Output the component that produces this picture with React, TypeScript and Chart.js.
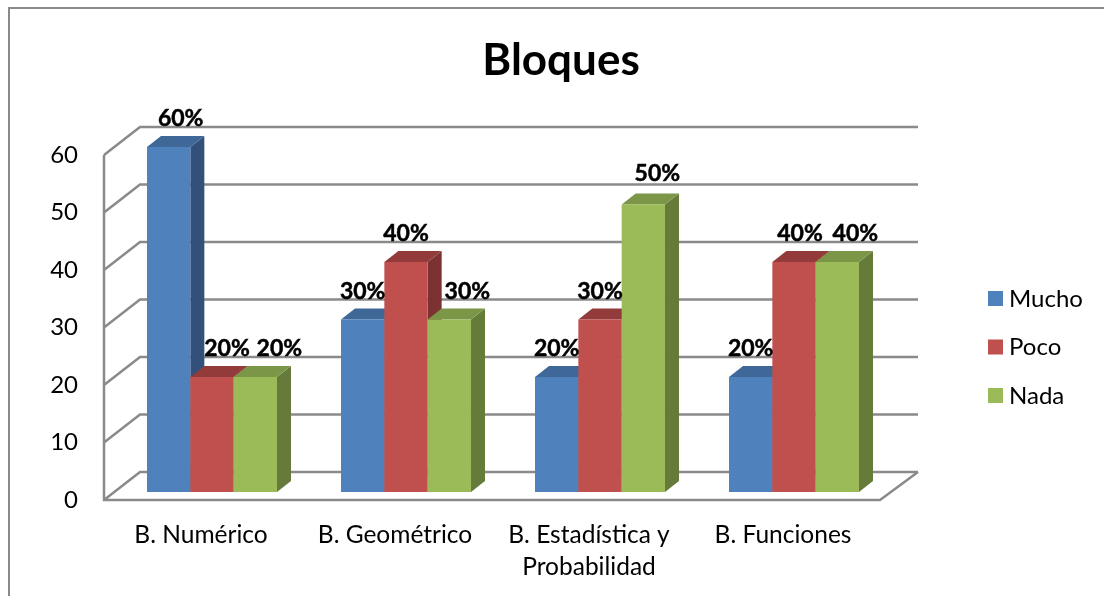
import React, { useEffect, useRef } from "react";
import { Chart, registerables } from "chart.js";

Chart.register(...registerables);

const categories = [
  "B. Numérico",
  "B. Geométrico",
  ["B. Estadística y", "Probabilidad"],
  "B. Funciones",
];
const mucho = [60, 30, 20, 20];
const poco = [20, 40, 30, 40];
const nada = [20, 30, 50, 40];
const seriesNames = ["Mucho", "Poco", "Nada"];
const titleText = "Bloques";

// visual styling
const FRONT = ["#4F81BD", "#C0504D", "#9BBB59"];
const TOP = ["#3F6797", "#933B3A", "#7B9647"];
const SIDE = ["#31507A", "#7B3231", "#667A39"];
const LINE = "#8A8A8A";
const FONT = "Lato, Carlito, sans-serif";
const LEGEND_SIZE = 24;
const LABEL_SIZE = 23;
// depth geometry
const WALL = { dx: 36, dy: -28 };
const BAR_SHIFT = { dx: 11, dy: -8 };
const BAR_DEPTH = { dx: 14, dy: -11 };
// hand-placed data-label nudges, by series then category
const labelNudgeX = [
  [12, 0, 0, 0],
  [15, 0, 0, 6],
  [24, 18, 14, 18],
];
const labelNudgeY = [
  [0, 0, 0, 0],
  [0, 0, 0, 0],
  [0, 0, -3, 0],
];
const labelLift = 28;

const scene = {
  id: "scene",
  afterLayout(chart: any) {
    chart.titleBlock.left = 0;
    chart.titleBlock.right = 1122;
  },
  beforeDraw(chart: any) {
    const ctx = chart.ctx;
    ctx.save();
    ctx.strokeStyle = LINE;
    ctx.lineWidth = 2;
    ctx.beginPath();
    ctx.moveTo(9, 596);
    ctx.lineTo(9, 8);
    ctx.lineTo(1104, 8);
    ctx.stroke();
    ctx.restore();
  },
  beforeDatasetsDraw(chart: any) {
    const { ctx, chartArea: a, scales } = chart;
    const y = scales.y;
    ctx.save();
    ctx.strokeStyle = LINE;
    ctx.lineWidth = 2.5;
    ctx.lineJoin = "miter";
    ctx.lineCap = "butt";
    ctx.beginPath();
    y.ticks.forEach((t: any) => {
      const py = y.getPixelForValue(t.value);
      ctx.moveTo(a.left, py);
      ctx.lineTo(a.left + WALL.dx, py + WALL.dy);
      ctx.lineTo(a.right + WALL.dx + 2, py + WALL.dy);
    });
    const bottom = y.getPixelForValue(0);
    const top = y.getPixelForValue(60);
    ctx.moveTo(a.left, top);
    ctx.lineTo(a.left, bottom);
    ctx.lineTo(a.right, bottom);
    ctx.lineTo(a.right + WALL.dx + 2, bottom + WALL.dy);
    ctx.stroke();
    ctx.restore();

    // Left-hand series first, so that each bar's front hides its left neighbour's side.
    chart.data.datasets.forEach((_: any, i: number) => {
      const meta = chart.getDatasetMeta(i);
      ctx.save();
      ctx.translate(BAR_SHIFT.dx, BAR_SHIFT.dy);
      meta.data.forEach((bar: any) => {
        const l = bar.x - bar.width / 2;
        const r = bar.x + bar.width / 2;
        const t = bar.y;
        const b = bar.base;
        ctx.fillStyle = SIDE[i];
        ctx.beginPath();
        ctx.moveTo(r, t);
        ctx.lineTo(r + BAR_DEPTH.dx, t + BAR_DEPTH.dy);
        ctx.lineTo(r + BAR_DEPTH.dx, b + BAR_DEPTH.dy);
        ctx.lineTo(r, b);
        ctx.closePath();
        ctx.fill();
        ctx.fillStyle = TOP[i];
        ctx.beginPath();
        ctx.moveTo(l, t);
        ctx.lineTo(l + BAR_DEPTH.dx, t + BAR_DEPTH.dy);
        ctx.lineTo(r + BAR_DEPTH.dx, t + BAR_DEPTH.dy);
        ctx.lineTo(r, t);
        ctx.closePath();
        ctx.fill();
      });
      meta.controller.draw();
      ctx.restore();
    });
  },
  beforeDatasetDraw() {
    return false; // already drawn above, in depth order
  },
  afterDatasetsDraw(chart: any) {
    const ctx = chart.ctx;
    ctx.save();
    ctx.fillStyle = "#000000";
    ctx.strokeStyle = "#000000";
    ctx.lineWidth = 0.5;
    ctx.font = `bold ${LABEL_SIZE}px ${FONT}`;
    ctx.textAlign = "center";
    ctx.textBaseline = "middle";
    chart.data.datasets.forEach((ds: any, i: number) => {
      chart.getDatasetMeta(i).data.forEach((bar: any, j: number) => {
        const px = bar.x + BAR_SHIFT.dx + labelNudgeX[i][j];
        const py = bar.y + BAR_SHIFT.dy - labelLift + labelNudgeY[i][j];
        ctx.fillText(`${ds.data[j]}%`, px, py);
        ctx.strokeText(`${ds.data[j]}%`, px, py);
      });
    });
    ctx.font = `${LEGEND_SIZE}px ${FONT}`;
    ctx.textAlign = "left";
    chart.data.datasets.forEach((ds: any, i: number) => {
      const top = 291 + i * 48.5;
      ctx.fillStyle = FRONT[i];
      ctx.fillRect(988, top, 15, 15);
      ctx.fillStyle = "#000000";
      ctx.fillText(ds.label, 1009, top + 8);
    });
    ctx.restore();
  },
};

export default function App() {
  const ref = useRef<HTMLCanvasElement>(null);
  useEffect(() => {
    const chart = new Chart(ref.current as HTMLCanvasElement, {
      type: "bar",
      data: {
        labels: categories as any,
        datasets: [mucho, poco, nada].map((data, i) => ({
          label: seriesNames[i],
          data,
          backgroundColor: FRONT[i],
          categoryPercentage: 0.67,
          barPercentage: 1,
          borderWidth: 0,
        })),
      },
      options: {
        responsive: false,
        animation: false,
        layout: { padding: { left: 0, right: 224, top: 0, bottom: 0 } },
        plugins: {
          legend: { display: false },
          tooltip: { enabled: false },
          title: {
            display: true,
            text: titleText,
            color: "#000000",
            font: { family: FONT, size: 44, weight: "bold", lineHeight: 1.2 },
            padding: { top: 34, bottom: 68.2 },
          },
        },
        scales: {
          x: {
            grid: { display: false },
            border: { display: false },
            afterFit: (s: any) => {
              s.height = 96;
            },
            ticks: {
              color: "#000000",
              padding: 11,
              maxRotation: 0,
              autoSkip: false,
              font: { family: FONT, size: 24.5, lineHeight: 1.3 },
            },
          },
          y: {
            min: 0,
            max: 60,
            grid: { display: false },
            border: { display: false },
            afterFit: (s: any) => {
              s.width = 104;
            },
            ticks: {
              stepSize: 10,
              color: "#000000",
              padding: 18,
              font: { family: FONT, size: 24 },
            },
          },
        },
      },
      plugins: [scene],
    } as any);
    return () => chart.destroy();
  }, []);
  return (
    <div style={{ position: "absolute", left: 0, top: 0, width: 1104, height: 596, background: "#ffffff" }}>
      <canvas ref={ref} width={1104} height={596} style={{ display: "block" }} />
    </div>
  );
}
